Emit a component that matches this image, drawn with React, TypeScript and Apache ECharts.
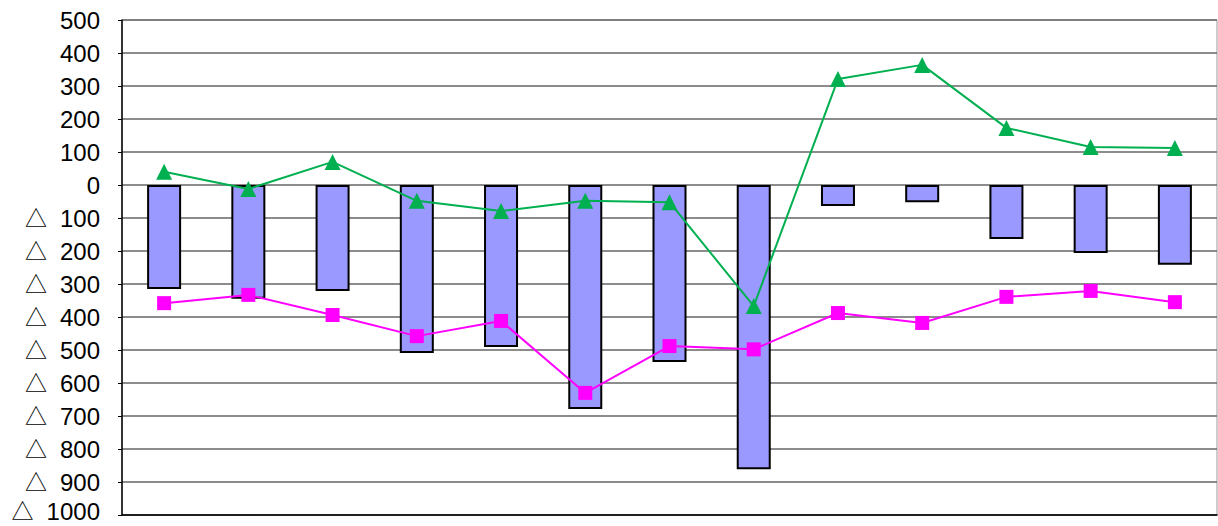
import React, { useEffect, useRef } from "react";
import * as echarts from "echarts";

const categories = ["1", "2", "3", "4", "5", "6", "7", "8", "9", "10", "11", "12", "13"];
const barValues = [-315, -345, -321, -509, -491, -679, -536, -861, -64, -52, -164, -206, -242];
const greenValues = [40, -12, 70, -48, -79, -48, -52, -367, 321, 364, 173, 115, 112];
const pinkValues = [-358, -333, -394, -458, -412, -630, -488, -498, -388, -418, -339, -321, -355];

export default function App() {
  const ref = useRef<HTMLDivElement>(null);
  useEffect(() => {
    if (!ref.current) return;
    const chart = echarts.init(ref.current, undefined, { renderer: "svg" });
    const tStyle = {
      fontFamily: "Noto Sans CJK JP",
      fontSize: 22,
      color: "#000",
      width: 35,
      align: "left",
      verticalAlign: "middle",
      lineHeight: 14,
    };
    const nStyle = {
      fontFamily: "Liberation Sans",
      fontSize: 24,
      color: "#000",
      verticalAlign: "middle",
      lineHeight: 16,
    };
    chart.setOption({
      animation: false,
      backgroundColor: "#ffffff",
      grid: {
        left: 122,
        top: 20,
        right: 1,
        bottom: 11,
        outerBoundsMode: "none",
        show: true,
        borderColor: "#9a9a9a",
        borderWidth: 1,
        backgroundColor: "transparent",
      },
      xAxis: {
        type: "category",
        data: categories,
        boundaryGap: true,
        axisLine: { show: true, onZero: false, lineStyle: { color: "#000", width: 1.5 } },
        axisTick: { show: false },
        axisLabel: { show: false },
        splitLine: { show: false },
      },
      yAxis: {
        type: "value",
        min: -1000,
        max: 500,
        interval: 100,
        axisLine: { show: true, lineStyle: { color: "#000", width: 1.5 } },
        axisTick: { show: true, length: 4, lineStyle: { color: "#000" } },
        axisLabel: {
          margin: 22,
          color: "#000",
          formatter: (v: number) => {
            if (v <= -1000) return "{t2|△}{n2|" + -v + "}";
            return v < 0 ? "{t|△}{n|" + -v + "}" : "{n|" + v + "}";
          },
          rich: {
            t: { ...tStyle, padding: [0, 0, 4, 0] },
            n: { ...nStyle },
            t2: { ...tStyle, padding: [0, 0, 12, 0] },
            n2: { ...nStyle, padding: [0, 0, 8, 0] },
          },
        },
        splitLine: { show: true, lineStyle: { color: "#666", width: 1.5 } },
      },
      series: [
        {
          type: "bar",
          data: barValues,
          barWidth: 34,
          itemStyle: { color: "#9999FF", borderColor: "#000", borderWidth: 2 },
          z: 2,
        },
        {
          type: "line",
          data: greenValues,
          symbol: "triangle",
          symbolSize: 16,
          lineStyle: { color: "#00B050", width: 2 },
          itemStyle: { color: "#00B050" },
          z: 3,
        },
        {
          type: "line",
          data: pinkValues,
          symbol: "rect",
          symbolSize: 14,
          lineStyle: { color: "#FF00FF", width: 2 },
          itemStyle: { color: "#FF00FF" },
          z: 3,
        },
      ],
    });
    return () => chart.dispose();
  }, []);
  return (
    <div
      ref={ref}
      style={{ position: "fixed", left: 0, top: 0, width: 1218, height: 526, background: "#fff" }}
    />
  );
}
